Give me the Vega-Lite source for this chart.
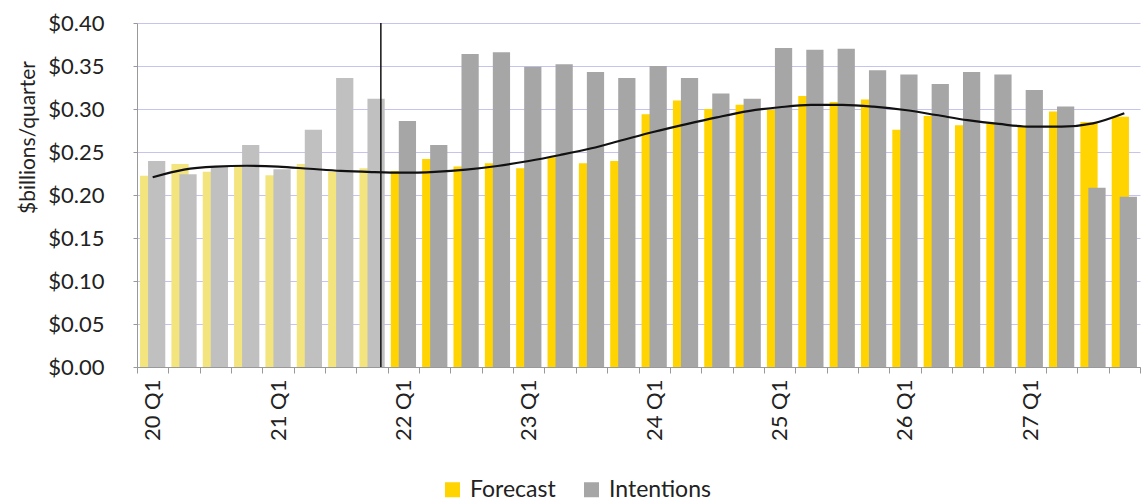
{
  "$schema": "https://vega.github.io/schema/vega-lite/v6.json",
  "width": 1003,
  "height": 344,
  "autosize": "none",
  "padding": {"left": 137, "top": 23, "right": 2, "bottom": 135},
  "background": "white",
  "config": {
    "view": {"stroke": null},
    "font": "Lato"
  },
  "datasets": {
    "bars": [
      {"q": "20 Q1", "series": "Forecast", "kind": "Forecast (actual)", "value": 0.2225},
      {"q": "20 Q2", "series": "Forecast", "kind": "Forecast (actual)", "value": 0.236},
      {"q": "20 Q3", "series": "Forecast", "kind": "Forecast (actual)", "value": 0.227},
      {"q": "20 Q4", "series": "Forecast", "kind": "Forecast (actual)", "value": 0.233},
      {"q": "21 Q1", "series": "Forecast", "kind": "Forecast (actual)", "value": 0.223},
      {"q": "21 Q2", "series": "Forecast", "kind": "Forecast (actual)", "value": 0.236},
      {"q": "21 Q3", "series": "Forecast", "kind": "Forecast (actual)", "value": 0.227},
      {"q": "21 Q4", "series": "Forecast", "kind": "Forecast (actual)", "value": 0.231},
      {"q": "22 Q1", "series": "Forecast", "kind": "Forecast", "value": 0.228},
      {"q": "22 Q2", "series": "Forecast", "kind": "Forecast", "value": 0.242},
      {"q": "22 Q3", "series": "Forecast", "kind": "Forecast", "value": 0.233},
      {"q": "22 Q4", "series": "Forecast", "kind": "Forecast", "value": 0.237},
      {"q": "23 Q1", "series": "Forecast", "kind": "Forecast", "value": 0.231},
      {"q": "23 Q2", "series": "Forecast", "kind": "Forecast", "value": 0.244},
      {"q": "23 Q3", "series": "Forecast", "kind": "Forecast", "value": 0.237},
      {"q": "23 Q4", "series": "Forecast", "kind": "Forecast", "value": 0.2395},
      {"q": "24 Q1", "series": "Forecast", "kind": "Forecast", "value": 0.294},
      {"q": "24 Q2", "series": "Forecast", "kind": "Forecast", "value": 0.31},
      {"q": "24 Q3", "series": "Forecast", "kind": "Forecast", "value": 0.3},
      {"q": "24 Q4", "series": "Forecast", "kind": "Forecast", "value": 0.305},
      {"q": "25 Q1", "series": "Forecast", "kind": "Forecast", "value": 0.299},
      {"q": "25 Q2", "series": "Forecast", "kind": "Forecast", "value": 0.315},
      {"q": "25 Q3", "series": "Forecast", "kind": "Forecast", "value": 0.308},
      {"q": "25 Q4", "series": "Forecast", "kind": "Forecast", "value": 0.311},
      {"q": "26 Q1", "series": "Forecast", "kind": "Forecast", "value": 0.276},
      {"q": "26 Q2", "series": "Forecast", "kind": "Forecast", "value": 0.292},
      {"q": "26 Q3", "series": "Forecast", "kind": "Forecast", "value": 0.281},
      {"q": "26 Q4", "series": "Forecast", "kind": "Forecast", "value": 0.283},
      {"q": "27 Q1", "series": "Forecast", "kind": "Forecast", "value": 0.279},
      {"q": "27 Q2", "series": "Forecast", "kind": "Forecast", "value": 0.297},
      {"q": "27 Q3", "series": "Forecast", "kind": "Forecast", "value": 0.285},
      {"q": "27 Q4", "series": "Forecast", "kind": "Forecast", "value": 0.291},
      {"q": "20 Q1", "series": "Intentions", "kind": "Intentions (actual)", "value": 0.2395},
      {"q": "20 Q2", "series": "Intentions", "kind": "Intentions (actual)", "value": 0.224},
      {"q": "20 Q3", "series": "Intentions", "kind": "Intentions (actual)", "value": 0.233},
      {"q": "20 Q4", "series": "Intentions", "kind": "Intentions (actual)", "value": 0.258},
      {"q": "21 Q1", "series": "Intentions", "kind": "Intentions (actual)", "value": 0.23},
      {"q": "21 Q2", "series": "Intentions", "kind": "Intentions (actual)", "value": 0.276},
      {"q": "21 Q3", "series": "Intentions", "kind": "Intentions (actual)", "value": 0.336},
      {"q": "21 Q4", "series": "Intentions", "kind": "Intentions (actual)", "value": 0.312},
      {"q": "22 Q1", "series": "Intentions", "kind": "Intentions", "value": 0.286},
      {"q": "22 Q2", "series": "Intentions", "kind": "Intentions", "value": 0.258},
      {"q": "22 Q3", "series": "Intentions", "kind": "Intentions", "value": 0.364},
      {"q": "22 Q4", "series": "Intentions", "kind": "Intentions", "value": 0.366},
      {"q": "23 Q1", "series": "Intentions", "kind": "Intentions", "value": 0.349},
      {"q": "23 Q2", "series": "Intentions", "kind": "Intentions", "value": 0.352},
      {"q": "23 Q3", "series": "Intentions", "kind": "Intentions", "value": 0.343},
      {"q": "23 Q4", "series": "Intentions", "kind": "Intentions", "value": 0.336},
      {"q": "24 Q1", "series": "Intentions", "kind": "Intentions", "value": 0.35},
      {"q": "24 Q2", "series": "Intentions", "kind": "Intentions", "value": 0.336},
      {"q": "24 Q3", "series": "Intentions", "kind": "Intentions", "value": 0.318},
      {"q": "24 Q4", "series": "Intentions", "kind": "Intentions", "value": 0.312},
      {"q": "25 Q1", "series": "Intentions", "kind": "Intentions", "value": 0.371},
      {"q": "25 Q2", "series": "Intentions", "kind": "Intentions", "value": 0.369},
      {"q": "25 Q3", "series": "Intentions", "kind": "Intentions", "value": 0.37},
      {"q": "25 Q4", "series": "Intentions", "kind": "Intentions", "value": 0.345},
      {"q": "26 Q1", "series": "Intentions", "kind": "Intentions", "value": 0.34},
      {"q": "26 Q2", "series": "Intentions", "kind": "Intentions", "value": 0.329},
      {"q": "26 Q3", "series": "Intentions", "kind": "Intentions", "value": 0.343},
      {"q": "26 Q4", "series": "Intentions", "kind": "Intentions", "value": 0.34},
      {"q": "27 Q1", "series": "Intentions", "kind": "Intentions", "value": 0.322},
      {"q": "27 Q2", "series": "Intentions", "kind": "Intentions", "value": 0.303},
      {"q": "27 Q3", "series": "Intentions", "kind": "Intentions", "value": 0.2085},
      {"q": "27 Q4", "series": "Intentions", "kind": "Intentions", "value": 0.198}
    ],
    "trend": [
      {"q": "20 Q1", "value": 0.2206},
      {"q": "20 Q2", "value": 0.2295},
      {"q": "20 Q3", "value": 0.233},
      {"q": "20 Q4", "value": 0.234},
      {"q": "21 Q1", "value": 0.233},
      {"q": "21 Q2", "value": 0.2305},
      {"q": "21 Q3", "value": 0.228},
      {"q": "21 Q4", "value": 0.2267},
      {"q": "22 Q1", "value": 0.226},
      {"q": "22 Q2", "value": 0.227},
      {"q": "22 Q3", "value": 0.2295},
      {"q": "22 Q4", "value": 0.2337},
      {"q": "23 Q1", "value": 0.2395},
      {"q": "23 Q2", "value": 0.2465},
      {"q": "23 Q3", "value": 0.2543},
      {"q": "23 Q4", "value": 0.264},
      {"q": "24 Q1", "value": 0.2736},
      {"q": "24 Q2", "value": 0.2822},
      {"q": "24 Q3", "value": 0.2903},
      {"q": "24 Q4", "value": 0.2975},
      {"q": "25 Q1", "value": 0.302},
      {"q": "25 Q2", "value": 0.3047},
      {"q": "25 Q3", "value": 0.3047},
      {"q": "25 Q4", "value": 0.3027},
      {"q": "26 Q1", "value": 0.2988},
      {"q": "26 Q2", "value": 0.293},
      {"q": "26 Q3", "value": 0.287},
      {"q": "26 Q4", "value": 0.2826},
      {"q": "27 Q1", "value": 0.2795},
      {"q": "27 Q2", "value": 0.2795},
      {"q": "27 Q3", "value": 0.2833},
      {"q": "27 Q4", "value": 0.295}
    ],
    "split": [{"q": "21 Q4"}]
  },
  "layer": [
    {
      "data": {"name": "bars"},
      "transform": [{"filter": "datum.series === 'Forecast'"}],
      "mark": {"type": "bar", "width": {"band": 0.55}, "xOffset": -4},
      "encoding": {
        "x": {
          "field": "q",
          "type": "ordinal",
          "scale": {
            "domain": ["20 Q1","20 Q2","20 Q3","20 Q4","21 Q1","21 Q2","21 Q3","21 Q4","22 Q1","22 Q2","22 Q3","22 Q4","23 Q1","23 Q2","23 Q3","23 Q4","24 Q1","24 Q2","24 Q3","24 Q4","25 Q1","25 Q2","25 Q3","25 Q4","26 Q1","26 Q2","26 Q3","26 Q4","27 Q1","27 Q2","27 Q3","27 Q4"],
            "paddingInner": 0,
            "paddingOuter": 0
          },
          "axis": {
            "title": null,
            "labelAngle": -90,
            "labelFontSize": 22,
            "labelColor": "#222",
            "labelExpr": "indexof('' + datum.label, 'Q1') >= 0 ? datum.label : ''",
            "tickBand": "extent",
            "tickSize": 6,
            "tickColor": "#999",
            "domainColor": "#999",
            "labelPadding": 6,
            "grid": false
          }
        },
        "y": {
          "field": "value",
          "type": "quantitative",
          "scale": {"domain": [0, 0.4]},
          "axis": {
            "title": "$billions/quarter",
            "titleFontSize": 21,
            "titleFontWeight": "normal",
            "titleColor": "#222",
            "titleX": -109,
            "titleY": 114,
            "titleAlign": "center",
            "titleBaseline": "middle",
            "titleAngle": -90,
            "values": [0, 0.05, 0.1, 0.15, 0.2, 0.25, 0.3, 0.35, 0.4],
            "format": "$.2f",
            "labelFontSize": 22,
            "labelColor": "#222",
            "labelPadding": 29,
            "tickSize": 4,
            "tickColor": "#999",
            "domainColor": "#999",
            "gridColor": "#c4c4ee",
            "gridWidth": 1
          }
        },
        "color": {
          "field": "kind",
          "type": "nominal",
          "scale": {
            "domain": ["Forecast", "Intentions", "Forecast (actual)", "Intentions (actual)"],
            "range": ["#FFD400", "#A6A6A6", "#F3E47E", "#C0C0C0"]
          },
          "legend": {
            "title": null,
            "values": ["Forecast", "Intentions"],
            "orient": "none",
            "direction": "horizontal",
            "legendX": 304,
            "legendY": 455,
            "symbolType": "square",
            "symbolSize": 225,
            "labelFontSize": 23,
            "labelColor": "#222",
            "columnPadding": 24,
            "labelOffset": 6
          }
        }
      }
    },
    {
      "data": {"name": "bars"},
      "transform": [{"filter": "datum.series === 'Intentions'"}],
      "mark": {"type": "bar", "width": {"band": 0.55}, "xOffset": 4},
      "encoding": {
        "x": {"field": "q", "type": "ordinal"},
        "y": {"field": "value", "type": "quantitative"},
        "color": {"field": "kind", "type": "nominal"}
      }
    },
    {
      "data": {"name": "trend"},
      "mark": {"type": "line", "color": "#111", "strokeWidth": 2.2, "interpolate": "monotone"},
      "encoding": {
        "x": {"field": "q", "type": "ordinal"},
        "y": {"field": "value", "type": "quantitative"}
      }
    },
    {
      "data": {"name": "split"},
      "mark": {"type": "rule", "color": "#111", "strokeWidth": 1.5},
      "encoding": {
        "x": {"field": "q", "type": "ordinal", "bandPosition": 0.78}
      }
    }
  ]
}
